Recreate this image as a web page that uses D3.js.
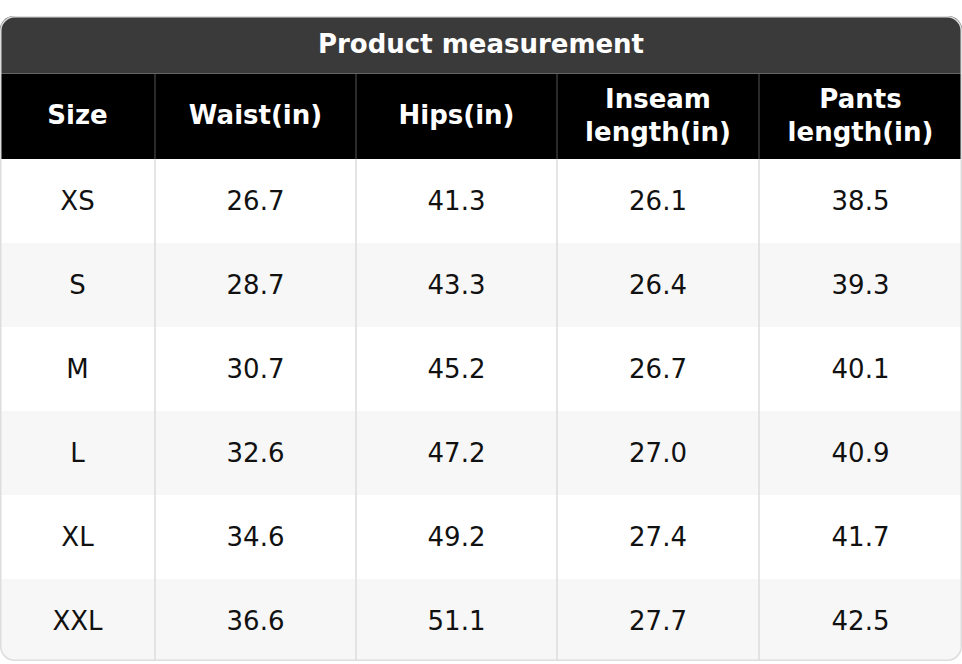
<!DOCTYPE html>
<html><head><meta charset="utf-8">
<script src="https://cdn.jsdelivr.net/npm/d3@7"></script>
<style>body{margin:0;background:#fff}</style></head>
<body><svg id="c" width="962" height="664"></svg>
<script>
const title = "Product measurement";
const headers = [["Size"],["Waist(in)"],["Hips(in)"],["Inseam","length(in)"],["Pants","length(in)"]];
const sizes = ["XS","S","M","L","XL","XXL"];
const waist = ["26.7","28.7","30.7","32.6","34.6","36.6"];
const hips = ["41.3","43.3","45.2","47.2","49.2","51.1"];
const inseam = ["26.1","26.4","26.7","27.0","27.4","27.7"];
const pants = ["38.5","39.3","40.1","40.9","41.7","42.5"];
const cols = [sizes, waist, hips, inseam, pants];
const colEdges = [0,155,356,557,759,962];

const svg = d3.select("#c");
const font = "DejaVu Sans, sans-serif";
const topY = 16, titleH = 57, headH = 85, rowH = 84;
const W = 962, H = titleH + headH + rowH*sizes.length;
svg.append("defs").append("clipPath").attr("id","clip")
  .append("rect").attr("x",0).attr("y",topY).attr("width",W).attr("height",H-1).attr("rx",14);
const g = svg.append("g").attr("clip-path","url(#clip)");
g.append("rect").attr("x",0).attr("y",topY).attr("width",W).attr("height",titleH).attr("fill","#3a3a3a");
g.append("text").attr("x",W/2).attr("y",topY+titleH/2+1).attr("text-anchor","middle").attr("dominant-baseline","middle")
  .attr("fill","#fff").attr("font-family",font).attr("font-weight","bold").attr("font-size",26).text(title);
const hy = topY+titleH+1;
g.append("rect").attr("x",0).attr("y",hy).attr("width",W).attr("height",headH).attr("fill","#000");
const y = d3.scaleBand().domain(d3.range(sizes.length)).range([hy+headH, hy+headH+rowH*sizes.length]);
g.selectAll(".row").data(sizes).join("rect").attr("x",0).attr("y",(d,i)=>y(i)).attr("width",W).attr("height",rowH)
  .attr("fill",(d,i)=>i%2?"#f7f7f7":"#fff");
headers.forEach((h,c)=>{
  const cx=(colEdges[c]+colEdges[c+1])/2, cy=hy+headH/2;
  const t=g.append("text").attr("text-anchor","middle").attr("fill","#fff").attr("font-family",font)
    .attr("font-weight","bold").attr("font-size",26);
  h.forEach((line,k)=>t.append("tspan").attr("x",cx).attr("y",cy+(k-(h.length-1)/2)*33).attr("dominant-baseline","middle").text(line));
  cols[c].forEach((v,i)=>g.append("text").attr("x",cx).attr("y",y(i)+rowH/2+1).attr("text-anchor","middle")
    .attr("dominant-baseline","middle").attr("font-family",font).attr("font-size",26).attr("fill","#111").text(v));
});
colEdges.slice(1,-1).forEach(x=>{
  g.append("line").attr("x1",x).attr("x2",x).attr("y1",hy).attr("y2",hy+headH).attr("stroke","#555");
  g.append("line").attr("x1",x).attr("x2",x).attr("y1",hy+headH).attr("y2",topY+H).attr("stroke","#ddd").attr("stroke-width",1.5);
});
g.append("line").attr("x1",0).attr("x2",W).attr("y1",hy-0.5).attr("y2",hy-0.5).attr("stroke","#666");
svg.append("rect").attr("x",0.75).attr("y",topY+0.75).attr("width",W-1.5).attr("height",H-2.5).attr("rx",14)
  .attr("fill","none").attr("stroke","#ddd").attr("stroke-width",1.5);
</script></body></html>
